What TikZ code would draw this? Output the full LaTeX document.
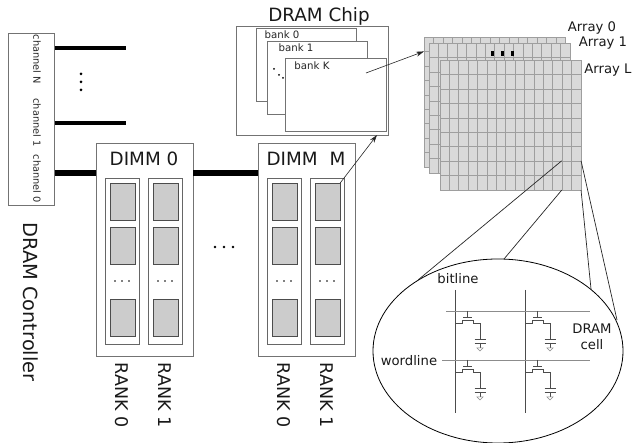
\documentclass[tikz,border=0pt]{standalone}
\usepackage{fontspec}
\setmainfont{DejaVu Sans}
\usetikzlibrary{positioning, arrows.meta, calc, shapes.geometric}

\begin{document}
\begin{tikzpicture}[
    x=1pt, y=-1pt,
    >=Stealth,
    % --- Styles ---
    box_frame/.style={draw=black!55, line width=0.7pt, fill=white, inner sep=0pt, anchor=north west},
    rank_frame/.style={draw=black!60, line width=0.6pt, fill=white, minimum width=34pt, minimum height=166pt, inner sep=0pt, anchor=north west},
    chip/.style={draw=black!70, line width=0.7pt, fill=black!20, minimum width=25pt, minimum height=37pt, inner sep=0pt, anchor=north west},
    array_grid/.style={draw=black!38, line width=0.55pt, fill=black!15, minimum width=9.4pt, minimum height=14.4pt, inner sep=0pt, anchor=north west},
    bus_thick/.style={line width=6.5pt},
    bus_thin/.style={line width=4pt},
    zoom_line/.style={draw=black!85, line width=0.7pt},
    arrow_thin/.style={->, line width=0.6pt, draw=black!85, >={Stealth[length=8pt,width=5pt]}},
    cell_line/.style={draw=black!70, line width=0.6pt},
    word_line/.style={draw=black!45, line width=0.8pt},
    label_big/.style={font=\fontsize{18.3}{22}\selectfont, inner sep=0pt, text=black!90},
    label_mid/.style={font=\fontsize{13.2}{16}\selectfont, inner sep=0pt, text=black!90},
    label_small/.style={font=\fontsize{10.2}{12}\selectfont, inner sep=0pt, text=black!85},
    label_chan/.style={font=\fontsize{9.8}{12}\selectfont, inner sep=0pt, text=black!85, rotate=-90},
    dot/.style={circle, fill=black, inner sep=0pt, minimum size=#1},
]
    \useasboundingbox (0,0) rectangle (632,443);

    % ==========================
    % 1. CONTROLLER
    % ==========================
    \node[box_frame, minimum width=46pt, minimum height=172pt] (ctrl) at (8,33) {};
    \node[label_chan] (chN) at (37,59.5) {channel N};
    \node[label_chan] (ch1) at (37,122.5) {channel 1};
    \node[label_chan] (ch0) at (37,179) {channel 0};
    \node[label_big, rotate=-90, font=\fontsize{19.4}{23}\selectfont] (ctrlname) at (31,302) {DRAM Controller};

    \coordinate (busN) at (126,48);
    \coordinate (bus1) at (126,123);
    \draw[bus_thin] (ctrl.east |- busN) -- (busN);
    \draw[bus_thin] (ctrl.east |- bus1) -- (bus1);
    \foreach \y [count=\i] in {74,82,90} \node[dot=3pt] (chdot\i) at (81,\y) {};

    % ==========================
    % 2. DIMMS AND RANKS
    % ==========================
    \foreach \name/\dx/\txt/\rx in {dimmA/96/DIMM 0/0, dimmB/258/{DIMM\hspace{0.65em}M}/162} {
        \node[box_frame, minimum width=96.5pt, minimum height=213pt] (\name) at (\dx,143) {};
        \node[label_big] (\name title) at (\dx+48,159) {\txt};
        \foreach \rk/\ox in {0/0, 1/43} {
            \node[rank_frame] (\name r\rk) at (105+\rx+\ox,178) {};
            \node[chip] (\name r\rk a) at (109.5+\rx+\ox,183) {};
            \node[chip] (\name r\rk b) at (109.5+\rx+\ox,227) {};
            \node[chip] (\name r\rk c) at (109.5+\rx+\ox,299.5) {};
            \foreach \q [count=\i] in {-7,0,7}
                \node[dot=1.8pt] (\name r\rk d\i) at (122+\rx+\ox+\q,281) {};
            \node[label_mid, rotate=-90, font=\fontsize{17.5}{21}\selectfont] (\name r\rk lab) at (122+\rx+\ox,395) {RANK \rk};
        }
    }
    \draw[bus_thick] (ctrl.east |- 0,173) -- (dimmA.west |- 0,173);
    \draw[bus_thick] (dimmA.east |- 0,173) -- (dimmB.west |- 0,173);
    \foreach \q [count=\i] in {-9,0,9} \node[dot=2.8pt] (dimdot\i) at (224+\q,247) {};

    % ==========================
    % 3. DRAM CHIP
    % ==========================
    \node[box_frame, minimum width=152pt, minimum height=109pt] (dchip) at (236,26) {};
    \node[label_big] (dchiplab) at (319,16) {DRAM Chip};
    \node[box_frame, minimum width=100pt, minimum height=73pt] (bank0) at (256,28) {};
    \node[label_small] (bank0lab) at (282,34.5) {bank 0};
    \node[box_frame, minimum width=100pt, minimum height=73pt] (bank1) at (267,41) {};
    \node[label_small] (bank1lab) at (296,47.5) {bank 1};
    \foreach \px/\py [count=\i] in {274/69, 279/75, 283/78} \node[dot=2pt] (bdot\i) at (\px,\py) {};
    \node[box_frame, minimum width=101pt, minimum height=73pt] (bankK) at (285,58) {};
    \node[label_small] (bankKlab) at (312,66) {bank K};

    % ==========================
    % 4. ARRAYS
    % ==========================
    \foreach \name/\ax/\ay in {arr0/424/37, arr1/428.5/43, arrL/439.5/60} {
        \foreach \r in {0,...,8} \foreach \c in {0,...,14}
            \node[array_grid] (\name-\r-\c) at (\ax+\c*9.4,\ay+\r*14.4) {};
    }
    \foreach \q [count=\i] in {492,502,512}
        \node[fill=black, inner sep=0pt, minimum width=3pt, minimum height=5pt] (adot\i) at (\q,53.5) {};
    \node[label_mid] (arr0lab) at (592,28) {Array 0};
    \node[label_mid] (arr1lab) at (603,43.5) {Array 1};
    \node[label_mid] (arrLlab) at (608,70.5) {Array L};

    % Arrows
    \coordinate (bankfrom) at (366,73);
    \draw[arrow_thin] (bankfrom) -- (arr0-1-0.north west);
    \coordinate (chipto) at (377,135);
    \draw[arrow_thin] (dimmBr1a.north east) -- (chipto);

    % ==========================
    % 5. ZOOMED CELLS
    % ==========================
    \node[ellipse, draw=black, line width=0.8pt, fill=white, minimum width=250pt, minimum height=184pt, inner sep=0pt] (zoomcell) at (498,351) {};
    \coordinate (zA) at (418,280);
    \coordinate (zB) at (504,259);
    \coordinate (zC) at (591,289);
    \coordinate (zD) at (617,320);
    \draw[zoom_line] (arrL-7-13.north west) -- (zA);
    \draw[zoom_line] (arrL-8-13.south west) -- (zB);
    \draw[zoom_line] (arrL-8-14.south east) -- (zC);
    \draw[zoom_line] (arrL-7-14.north east) -- (zD);

    \foreach \bx/\bn in {455/a, 525/b} {
        \coordinate (bt\bn) at (\bx,290);
        \coordinate (bb\bn) at (\bx,413);
        \draw[cell_line] (bt\bn) -- (bb\bn);
    }
    \coordinate (w1a) at (446,311); \coordinate (w1b) at (590,311);
    \coordinate (w2a) at (442,360); \coordinate (w2b) at (590,360);
    \draw[word_line] (w1a) -- (w1b);
    \draw[word_line] (w2a) -- (w2b);

    \foreach \cx/\cy in {455/311, 525/311, 455/360, 525/360} {
        \begin{scope}[shift={(\cx,\cy)}]
            \draw[cell_line, line width=0.5pt] (12.5,0) -- (12.5,6);
            \draw[cell_line, line width=1pt] (8,7) -- (17,7);
            \draw[cell_line] (0,12) -- (7,12) -- (7,9.5) -- (18,9.5) -- (18,12) -- (25,12) -- (25,28);
            \draw[cell_line, line width=0.9pt] (19.5,28.5) -- (30.5,28.5);
            \draw[cell_line, line width=0.9pt] (19.5,32) -- (30.5,32);
            \draw[cell_line] (25,32) -- (25,37);
            \draw[draw=black!45, line width=0.5pt] (22,37) -- (28,37) -- (25,40) -- cycle;
        \end{scope}
    }
    \node[label_mid] (bitlab) at (458,279) {bitline};
    \node[label_mid] (wordlab) at (409,361) {wordline};
    \node[label_mid, align=center] (celllab) at (592,337) {DRAM\\cell};
\end{tikzpicture}
\end{document}
